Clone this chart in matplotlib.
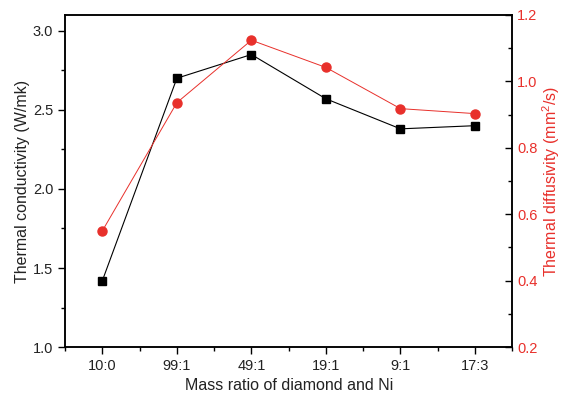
import matplotlib
matplotlib.use("Agg")
import matplotlib.pyplot as plt
from matplotlib.ticker import MultipleLocator, FixedLocator

plt.rcParams['font.family'] = ['Liberation Sans', 'DejaVu Sans']

# data
ratios = ["10:0", "99:1", "49:1", "19:1", "9:1", "17:3"]
conductivity = [1.42, 2.70, 2.85, 2.57, 2.38, 2.40]
diffusivity = [0.55, 0.936, 1.124, 1.042, 0.918, 0.903]

red = "#e8302b"
txt = "#222222"
x = list(range(len(ratios)))

fig = plt.figure(figsize=(5.66, 3.94), dpi=100)
ax = fig.add_axes([0.115, 0.119, 0.79, 0.843])
ax2 = ax.twinx()

ax.plot(x, conductivity, color="black", lw=0.8, marker="s", ms=5.5, zorder=3)
ax2.plot(x, diffusivity, color=red, lw=0.7, marker="o", ms=6.5, zorder=3)

ax.set_xlim(-0.5, 5.5)
ax.set_ylim(1.0, 3.1)
ax2.set_ylim(0.2, 1.2)

ax.set_xticks(x)
ax.set_xticklabels(ratios)
ax.xaxis.set_minor_locator(FixedLocator([i + 0.5 for i in range(-1, 6)]))
ax.yaxis.set_major_locator(MultipleLocator(0.5))
ax.yaxis.set_minor_locator(MultipleLocator(0.25))
ax2.yaxis.set_major_locator(MultipleLocator(0.2))
ax2.yaxis.set_minor_locator(MultipleLocator(0.1))

ax.tick_params(axis="both", which="major", direction="out", length=5, width=1,
               labelsize=10.5, labelcolor=txt)
ax.tick_params(axis="both", which="minor", direction="out", length=3, width=1)
ax2.tick_params(axis="y", which="major", direction="in", length=5, width=1,
                labelsize=10.5, labelcolor=red)
ax2.tick_params(axis="y", which="minor", direction="in", length=3, width=1)

for a in (ax, ax2):
    for s in a.spines.values():
        s.set_linewidth(1.1)

ax.set_xlabel("Mass ratio of diamond and Ni", fontsize=11.5, color=txt)
ax.set_ylabel("Thermal conductivity (W/mk)", fontsize=11.5, color=txt, labelpad=2)
ax2.set_ylabel("Thermal diffusivity (mm$^\\mathregular{2}$/s)", fontsize=11.5,
               color=red, labelpad=2)

fig.savefig("out.png", dpi=100)
